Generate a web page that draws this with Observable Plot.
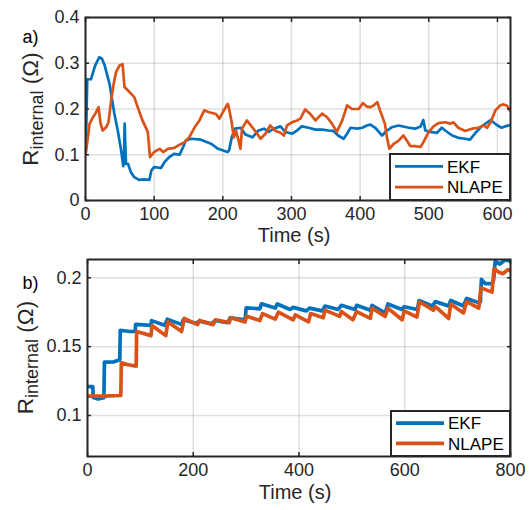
<!DOCTYPE html>
<html>
<head>
<meta charset="utf-8">
<script src="https://cdn.jsdelivr.net/npm/d3@7"></script>
<script src="https://cdn.jsdelivr.net/npm/@observablehq/plot@0.6"></script>
<style>
  html, body { margin: 0; padding: 0; background: white; }
  #wrap { position: relative; width: 531px; height: 510px; overflow: hidden; }
  #wrap > svg { position: absolute; left: 0; }
</style>
</head>
<body>
<div id="wrap"></div>
<script>
// ---------- Panel a data ----------
const seriesNames = ["EKF", "NLAPE"];
const seriesColors = ["#0072BD", "#D95319"];

const ekfA_t = [0, 1, 2.5, 8, 14, 20, 24, 28, 35, 42, 47, 52, 55, 56, 57, 58, 59, 62, 66, 71, 78, 85, 93, 96, 100, 110, 115, 122, 129, 137, 142, 146, 154, 168, 183, 193, 207, 209, 213, 218, 226, 233, 243, 252, 260, 267, 274, 284, 291, 301, 308, 315, 325, 335, 345, 354, 361, 368, 376, 381, 386, 396, 403, 410, 415, 422, 432, 439, 446, 456, 471, 480, 488, 492, 495, 502, 512, 519, 524, 534, 543, 553, 560, 568, 577, 590, 599, 606, 611, 619];
const ekfA_r = [0.10, 0.15, 0.265, 0.265, 0.295, 0.313, 0.31, 0.295, 0.255, 0.19, 0.153, 0.109, 0.075, 0.085, 0.168, 0.12, 0.08, 0.08, 0.062, 0.051, 0.045, 0.046, 0.045, 0.066, 0.073, 0.071, 0.084, 0.095, 0.102, 0.100, 0.116, 0.131, 0.135, 0.133, 0.124, 0.113, 0.106, 0.109, 0.138, 0.157, 0.159, 0.144, 0.138, 0.153, 0.157, 0.150, 0.157, 0.162, 0.150, 0.146, 0.153, 0.162, 0.159, 0.155, 0.155, 0.153, 0.152, 0.142, 0.135, 0.146, 0.159, 0.157, 0.159, 0.164, 0.166, 0.159, 0.142, 0.153, 0.160, 0.164, 0.159, 0.157, 0.162, 0.176, 0.153, 0.150, 0.148, 0.159, 0.153, 0.142, 0.137, 0.135, 0.133, 0.148, 0.162, 0.176, 0.165, 0.159, 0.162, 0.165];

const nlapeA_t = [0, 1, 6, 11, 15.5, 19, 22, 25, 30, 33.5, 37.4, 41, 44.6, 49.5, 54, 56.8, 61.6, 71, 76, 83, 90.7, 94, 100, 108, 113, 120, 129.5, 137, 144, 151, 159, 166, 173, 180, 190, 195, 200, 207, 208, 212.5, 216, 219, 223, 225.6, 228, 235, 243, 250, 255, 262, 269, 277, 284, 289, 293.5, 301, 308, 313, 320, 327.5, 335, 344.5, 352, 359, 366, 374, 381, 388, 398, 404, 410, 415, 420, 425, 429, 436, 439, 442.5, 449, 456, 463, 468, 473, 480, 488, 492, 500, 507, 514, 524, 531, 536, 543, 553, 563, 572, 580, 585, 590, 597, 604, 609, 614, 619];
const nlapeA_r = [0.10, 0.109, 0.168, 0.182, 0.193, 0.204, 0.168, 0.153, 0.16, 0.171, 0.219, 0.255, 0.281, 0.295, 0.298, 0.248, 0.241, 0.226, 0.204, 0.175, 0.150, 0.095, 0.106, 0.113, 0.106, 0.113, 0.115, 0.122, 0.127, 0.138, 0.160, 0.175, 0.197, 0.193, 0.189, 0.179, 0.193, 0.211, 0.208, 0.175, 0.138, 0.153, 0.131, 0.113, 0.157, 0.175, 0.160, 0.146, 0.135, 0.146, 0.164, 0.152, 0.148, 0.142, 0.164, 0.171, 0.175, 0.179, 0.199, 0.189, 0.175, 0.190, 0.182, 0.168, 0.150, 0.175, 0.208, 0.200, 0.200, 0.213, 0.205, 0.204, 0.208, 0.215, 0.197, 0.168, 0.138, 0.113, 0.124, 0.131, 0.142, 0.131, 0.119, 0.119, 0.117, 0.127, 0.150, 0.162, 0.169, 0.171, 0.168, 0.171, 0.159, 0.152, 0.157, 0.159, 0.164, 0.159, 0.171, 0.197, 0.208, 0.210, 0.207, 0.195];

const xTicksA = [0, 100, 200, 300, 400, 500, 600];
const yTicksA = [0, 0.1, 0.2, 0.3, 0.4];

// ---------- Panel b data ----------
const ekfB_t = [0, 10, 11, 20, 31, 32, 50, 61, 62, 80, 90, 91, 120, 121, 146, 151, 178, 181, 205, 212, 235, 241, 265, 270, 298, 300, 326, 329, 355, 359, 383, 389, 414, 420, 444, 449, 474, 480, 506, 509, 535, 538, 563, 568, 595, 599, 624, 627, 652, 658, 683, 687, 711, 717, 739, 743, 745, 752, 765, 768, 771, 780, 790, 800];
const ekfB_r = [0.121, 0.121, 0.113, 0.112, 0.113, 0.1387, 0.139, 0.1405, 0.1619, 0.161, 0.161, 0.1662, 0.1655, 0.1689, 0.1655, 0.170, 0.166, 0.1695, 0.167, 0.1685, 0.1665, 0.169, 0.1675, 0.171, 0.1695, 0.1782, 0.1775, 0.1811, 0.178, 0.181, 0.177, 0.1785, 0.176, 0.178, 0.176, 0.1795, 0.177, 0.180, 0.177, 0.180, 0.1765, 0.1799, 0.1745, 0.181, 0.177, 0.179, 0.177, 0.1835, 0.1795, 0.1827, 0.1795, 0.1835, 0.1795, 0.185, 0.182, 0.1825, 0.1988, 0.1958, 0.1958, 0.1983, 0.212, 0.210, 0.213, 0.212];

const nlapeB_t = [0, 30, 63, 64, 75, 92, 93, 120, 122, 148, 152, 178, 183, 208, 212, 238, 242, 268, 271, 298, 301, 326, 331, 355, 361, 389, 393, 418, 422, 446, 449, 477, 480, 502, 509, 535, 538, 563, 568, 595, 599, 623, 628, 654, 658, 683, 687, 711, 717, 740, 744, 765, 769, 778, 786, 795, 800];
const nlapeB_r = [0.114, 0.114, 0.1145, 0.1382, 0.137, 0.1358, 0.161, 0.158, 0.1653, 0.158, 0.168, 0.161, 0.1705, 0.166, 0.169, 0.166, 0.1695, 0.1675, 0.171, 0.168, 0.172, 0.169, 0.174, 0.170, 0.175, 0.1695, 0.173, 0.168, 0.174, 0.171, 0.1765, 0.172, 0.1755, 0.1695, 0.1755, 0.1705, 0.178, 0.172, 0.178, 0.1695, 0.176, 0.1715, 0.1825, 0.1765, 0.179, 0.1705, 0.181, 0.1745, 0.1827, 0.178, 0.1927, 0.1896, 0.2066, 0.204, 0.203, 0.206, 0.205];

const xTicksB = [0, 200, 400, 600, 800];
const yTicksB = [0.1, 0.15, 0.2];

// ---------- helpers ----------
const FONT = "'Liberation Sans', Arial, Helvetica, sans-serif";
const INK = "#262626";
const rows = (ts, rs) => ts.map((t, i) => ({t, r: rs[i]}));

function panel({xDomain, yDomain, xTicks, yTicks, ekf, nlape, height, margins, lw, tickPadX, titleDy, tag, tagDx, tagDy}) {
  const [mt, mr, mb, ml] = margins;
  return Plot.plot({
    width: 531, height,
    marginTop: mt, marginRight: mr, marginBottom: mb, marginLeft: ml,
    style: {fontFamily: FONT, fontSize: "18px", color: INK, background: "white", overflow: "visible"},
    x: {domain: xDomain},
    y: {domain: yDomain},
    marks: [
      Plot.gridX(xTicks, {stroke: INK, strokeOpacity: 0.15, strokeWidth: 1.5}),
      Plot.gridY(yTicks, {stroke: INK, strokeOpacity: 0.15, strokeWidth: 1.5}),
      Plot.line(ekf, {x: "t", y: "r", stroke: seriesColors[0], strokeWidth: lw, clip: true}),
      Plot.line(nlape, {x: "t", y: "r", stroke: seriesColors[1], strokeWidth: lw, clip: true}),
      Plot.axisX(xTicks, {anchor: "bottom", tickSize: 0, tickPadding: tickPadX, tickFormat: d => String(d), label: null, fontSize: 18}),
      Plot.axisY(yTicks, {anchor: "left", tickSize: 0, tickPadding: 6, tickFormat: d => String(d), label: null, fontSize: 18}),
      Plot.axisX(xTicks, {anchor: "bottom", tickSize: -4, text: null, label: null, stroke: INK, strokeWidth: 1.5}),
      Plot.axisX(xTicks, {anchor: "top", tickSize: -4, text: null, label: null, stroke: INK, strokeWidth: 1.5}),
      Plot.axisY(yTicks, {anchor: "left", tickSize: -4, text: null, label: null, stroke: INK, strokeWidth: 1.5}),
      Plot.axisY(yTicks, {anchor: "right", tickSize: -4, text: null, label: null, stroke: INK, strokeWidth: 1.5}),
      Plot.frame({stroke: INK, strokeWidth: 2}),
      Plot.text(["Time (s)"], {frameAnchor: "bottom", dy: titleDy, dx: -4, fontSize: 20, fill: INK}),
      Plot.text([tag], {frameAnchor: "top-left", dx: tagDx, dy: tagDy, fontSize: 18, fill: "black", textAnchor: "middle"})
    ]
  });
}

function addYLabel(svg, x, y) {
  const t = d3.select(svg).append("text")
    .attr("transform", `translate(${x},${y}) rotate(-90)`)
    .attr("text-anchor", "middle")
    .attr("font-family", FONT)
    .attr("font-size", 22.5)
    .attr("fill", INK);
  t.append("tspan").text("R");
  t.append("tspan").attr("font-size", 18).attr("dy", 5).text("internal");
  t.append("tspan").attr("dy", -5).text(" (\u03A9)");
}

function addLegend(svg, x0, y0, x1, y1, lw) {
  const g = d3.select(svg).append("g");
  g.append("rect").attr("x", x0).attr("y", y0).attr("width", x1 - x0).attr("height", y1 - y0)
    .attr("fill", "white").attr("stroke", INK).attr("stroke-width", 2);
  const h = y1 - y0;
  seriesNames.forEach((name, i) => {
    const yy = y0 + h * (i === 0 ? 0.27 : 0.72);
    g.append("line").attr("x1", x0 + 5).attr("x2", x0 + 53).attr("y1", yy).attr("y2", yy)
      .attr("stroke", seriesColors[i]).attr("stroke-width", lw);
    g.append("text").attr("x", x0 + 57).attr("y", yy).attr("dy", "0.36em")
      .attr("text-anchor", "start")
      .attr("font-family", FONT).attr("font-size", 17).attr("fill", "black").text(name);
  });
}

const wrap = document.getElementById("wrap");

const svgA = panel({
  xDomain: [0, 619], yDomain: [0, 0.4], xTicks: xTicksA, yTicks: yTicksA,
  ekf: rows(ekfA_t, ekfA_r), nlape: rows(nlapeA_t, nlapeA_r),
  height: 250, margins: [17, 21, 50, 85], lw: 2.7, tickPadX: 7, titleDy: 41,
  tag: "a)", tagDx: -55, tagDy: 13
});
svgA.style.top = "0px";
addYLabel(svgA, 38, 109);
addLegend(svgA, 390, 154, 510, 200, 2.7);
wrap.appendChild(svgA);

const svgB = panel({
  xDomain: [0, 800], yDomain: [0.0702, 0.2133], xTicks: xTicksB, yTicks: yTicksB,
  ekf: rows(ekfB_t, ekfB_r), nlape: rows(nlapeB_t, nlapeB_r),
  height: 260, margins: [9, 21, 54, 87], lw: 3.7, tickPadX: 7, titleDy: 42,
  tag: "b)", tagDx: -57, tagDy: 17
});
svgB.style.top = "250px";
addYLabel(svgB, 33, 107.5);
addLegend(svgB, 391, 161, 510, 206, 3.7);
wrap.appendChild(svgB);
</script>
</body>
</html>
